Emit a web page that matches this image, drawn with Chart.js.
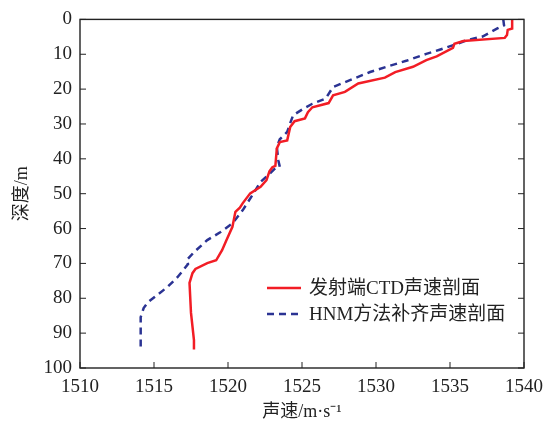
<!DOCTYPE html>
<html>
<head>
    <meta charset="UTF-8">
    <title>声速剖面</title>
    <style>
        body { margin: 0; padding: 0; background: #fff; }
        #chart { display: block; }
    </style>
</head>
<body>
<canvas id="chart" width="557" height="426"></canvas>
<script src="https://cdn.jsdelivr.net/npm/chart.js"></script>
<script>
    // 发射端CTD声速剖面 (depth m, speed m/s)
    const ctdDepth = [0, 2.6, 3.0, 4.5, 5.3, 6.2, 7.0, 8.2, 10.6, 11.7, 13.6, 15.1, 16.7, 18.4, 20.8, 21.8, 24.0, 25.2, 26.6, 28.4,
        29.2, 30.9, 34.7, 35.2, 37.0, 42.0, 42.4, 43.6, 46.1, 48.0, 49.9, 52.7, 54.0, 55.2, 59.5, 63.3, 66.2, 69.1, 69.9,
        71.6, 72.8, 75.6, 84.2, 92.0, 94.7];
    const ctdSpeed = [1539.2, 1539.2, 1538.9, 1538.85, 1538.7, 1535.9, 1535.3, 1535.2, 1534.1, 1533.4, 1532.5, 1531.3, 1530.6, 1528.8, 1527.9, 1527.1, 1526.8, 1525.7, 1525.4, 1525.2,
        1524.5, 1524.2, 1524.0, 1523.5, 1523.3, 1523.2, 1523.0, 1522.8, 1522.6, 1522.2, 1521.5, 1521.0, 1520.8, 1520.5, 1520.3, 1519.9, 1519.6, 1519.2, 1518.6,
        1517.8, 1517.6, 1517.4, 1517.5, 1517.7, 1517.7];

    // HNM方法补齐声速剖面
    const hnmDepth = [0, 1.7, 2.6, 4.9, 6.0, 7.0, 8.7, 9.9, 11.8, 13.6, 15.1, 17.5, 19.4, 22.7, 24.2, 25.6, 27.5, 29.8, 32.3,
        34.4, 36.6, 40.4, 42.3, 42.7, 44.7, 46.6, 49.4, 54.7, 58.5, 61.0, 63.3, 66.8, 69.1, 70.2, 73.9, 76.8, 79.1, 81.1,
        82.8, 85.4, 94.6];
    const hnmSpeed = [1538.6, 1538.65, 1538.2, 1537.2, 1536.1, 1535.5, 1534.3, 1533.4, 1532.1, 1530.7, 1529.6, 1528.2, 1527.1, 1526.6, 1525.7, 1525.1, 1524.4, 1524.2, 1524.0,
        1523.5, 1523.3, 1523.4, 1523.5, 1523.2, 1522.7, 1522.2, 1521.8, 1521.0, 1520.3, 1519.5, 1518.6, 1517.7, 1517.2, 1517.3, 1516.6, 1515.9, 1515.2, 1514.6,
        1514.3, 1514.1, 1514.1];

    const seriesNames = ['发射端CTD声速剖面', 'HNM方法补齐声速剖面'];
    const xTicks = [1510, 1515, 1520, 1525, 1530, 1535, 1540];
    const yTicks = [0, 10, 20, 30, 40, 50, 60, 70, 80, 90, 100];

    const serif = "'Liberation Serif', 'DejaVu Serif', 'Noto Sans CJK SC', serif";
    const cjk = "'Liberation Serif', 'Noto Sans CJK SC', serif";

    function pairs(xs, ys) {
        return xs.map((x, i) => ({ x: x, y: ys[i] }));
    }

    // frame with inward ticks
    const framePlugin = {
        id: 'frame',
        afterDraw(chart) {
            const { ctx, chartArea: a, scales } = chart;
            ctx.save();
            ctx.strokeStyle = '#222';
            ctx.lineWidth = 1.4;
            ctx.strokeRect(a.left, a.top, a.right - a.left, a.bottom - a.top);
            ctx.lineWidth = 1;
            ctx.beginPath();
            xTicks.forEach(v => {
                const px = scales.x.getPixelForValue(v);
                ctx.moveTo(px, a.bottom);
                ctx.lineTo(px, a.bottom - 6);
            });
            yTicks.forEach(v => {
                const py = scales.y.getPixelForValue(v);
                ctx.moveTo(a.left, py);
                ctx.lineTo(a.left + 6, py);
                ctx.moveTo(a.right, py);
                ctx.lineTo(a.right - 6, py);
            });
            ctx.stroke();
            ctx.restore();
        }
    };

    // legend inside the plot
    const legendPlugin = {
        id: 'innerLegend',
        afterDraw(chart) {
            const { ctx } = chart;
            const rows = [288, 314];
            ctx.save();
            ctx.font = '19px ' + cjk;
            ctx.textBaseline = 'middle';
            ctx.fillStyle = '#222';
            chart.data.datasets.forEach((ds, i) => {
                const y = rows[i];
                ctx.strokeStyle = ds.borderColor;
                ctx.lineWidth = ds.borderWidth;
                ctx.setLineDash(ds.borderDash || []);
                ctx.beginPath();
                ctx.moveTo(267, y);
                ctx.lineTo(301, y);
                ctx.stroke();
                ctx.setLineDash([]);
                ctx.fillText(ds.label, 309, y + 1);
            });
            ctx.restore();
        }
    };

    new Chart(document.getElementById('chart'), {
        type: 'line',
        data: {
            datasets: [
                {
                    label: seriesNames[0],
                    data: pairs(ctdSpeed, ctdDepth),
                    borderColor: '#f21d25',
                    borderWidth: 2.5,
                    pointRadius: 0,
                    tension: 0,
                    fill: false
                },
                {
                    label: seriesNames[1],
                    data: pairs(hnmSpeed, hnmDepth),
                    borderColor: '#2b3393',
                    borderWidth: 2.5,
                    borderDash: [7, 5],
                    pointRadius: 0,
                    tension: 0,
                    fill: false
                }
            ]
        },
        options: {
            responsive: false,
            animation: false,
            layout: { padding: { left: 0, right: 33, top: 19, bottom: 0 } },
            plugins: {
                legend: { display: false },
                tooltip: { enabled: false }
            },
            scales: {
                x: {
                    type: 'linear',
                    min: 1510,
                    max: 1540,
                    afterFit(scale) { scale.height = 58; },
                    afterBuildTicks(scale) { scale.ticks = xTicks.map(v => ({ value: v })); },
                    grid: { display: false, drawTicks: false },
                    border: { display: false },
                    ticks: {
                        color: '#222',
                        font: { family: serif, size: 19 },
                        padding: 8,
                        maxRotation: 0,
                        callback: v => String(v)
                    },
                    title: {
                        display: true,
                        text: '声速/m·s⁻¹',
                        color: '#222',
                        font: { family: cjk, size: 18 },
                        padding: { top: 0, bottom: 3 }
                    }
                },
                y: {
                    type: 'linear',
                    reverse: true,
                    min: 0,
                    max: 100,
                    afterFit(scale) { scale.width = 80; },
                    afterBuildTicks(scale) { scale.ticks = yTicks.map(v => ({ value: v })); },
                    grid: { display: false, drawTicks: false },
                    border: { display: false },
                    ticks: {
                        color: '#222',
                        font: { family: serif, size: 19 },
                        padding: 8,
                        callback: v => String(v)
                    },
                    title: {
                        display: true,
                        text: '深度/m',
                        color: '#222',
                        font: { family: cjk, size: 18 },
                        padding: { top: 11, bottom: 0 }
                    }
                }
            }
        },
        plugins: [framePlugin, legendPlugin]
    });
</script>
</body>
</html>
